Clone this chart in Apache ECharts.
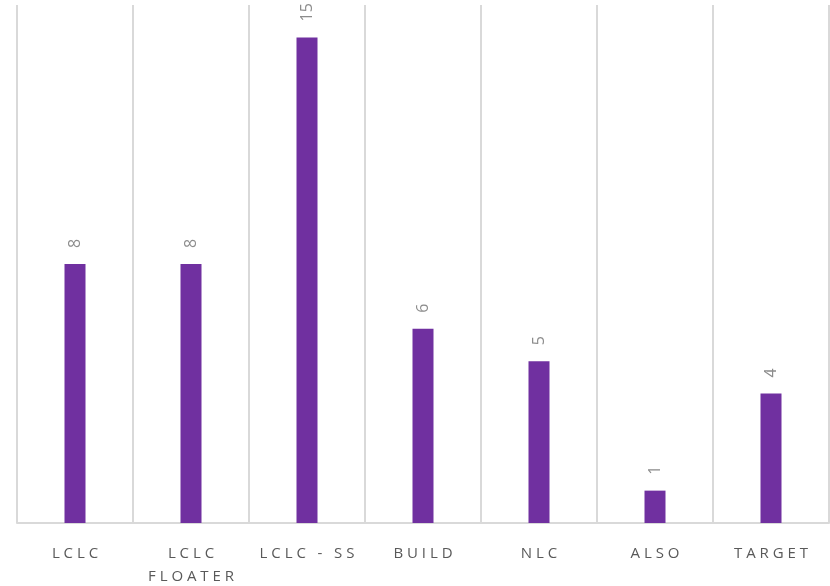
<!DOCTYPE html>
<html>
<head>
<meta charset="utf-8">
<script src="https://cdn.jsdelivr.net/npm/echarts@6/dist/echarts.min.js"></script>
<style>
  html, body { margin: 0; padding: 0; background: #fff; }
  #chart { width: 830px; height: 586px; }
</style>
</head>
<body>
<div id="chart"></div>
<script>
// categories and values
const categories = ['LCLC', 'LCLC\nFLOATER', 'LCLC - SS', 'BUILD', 'NLC', 'ALSO', 'TARGET'];
const counts = [8, 8, 15, 6, 5, 1, 4];

// spread letters out like the original (no letter-spacing in canvas text)
function spaced(s) {
    return s.split('\n').map(line => line.split('').join(' ')).join('\n');
}

const myChart = echarts.init(document.getElementById('chart'));
myChart.setOption({
    animation: false,
    grid: { left: 17, right: 1, top: 5, bottom: 63, outerBoundsMode: 'none' },
    xAxis: {
        type: 'category',
        data: categories,
        axisLine: { lineStyle: { color: '#d9d9d9', width: 2 } },
        axisTick: { show: false },
        splitLine: { show: true, lineStyle: { color: '#d9d9d9', width: 2 } },
        axisLabel: {
            interval: 0,
            margin: 19,
            color: '#595959',
            fontSize: 15,
            lineHeight: 23,
            fontFamily: 'Open Sans',
            formatter: v => spaced(v)
        }
    },
    yAxis: {
        type: 'value',
        min: 0,
        max: 16,
        show: false,
        splitLine: { show: false }
    },
    series: [{
        type: 'bar',
        data: counts,
        barWidth: 21,
        itemStyle: { color: '#7030a0' },
        label: {
            show: true,
            position: 'top',
            rotate: 90,
            distance: 16,
            align: 'left',
            verticalAlign: 'middle',
            color: '#8c8c8c',
            fontSize: 16,
            fontFamily: 'Open Sans'
        }
    }]
});
</script>
</body>
</html>
